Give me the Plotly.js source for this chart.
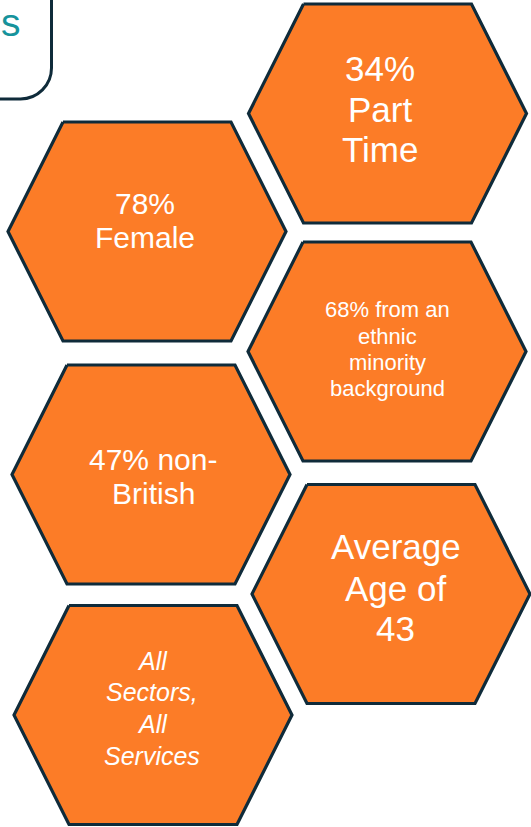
<!DOCTYPE html>
<html>
<head>
<meta charset="utf-8">
<script src="https://cdn.plot.ly/plotly-3.0.1.min.js"></script>
<style>html,body{margin:0;padding:0;background:#fff;overflow:hidden}#chart{width:531px;height:827px}</style>
</head>
<body>
<div id="chart"></div>
<script>
// Text content of each hexagon (one entry per line)
var hexLabels = [
  ["34%", "Part", "Time"],
  ["78%", "Female"],
  ["68% from an", "ethnic", "minority", "background"],
  ["47% non-", "British"],
  ["Average", "Age of", "43"],
  ["All", "Sectors,", "All", "Services"]
];
var cornerText = "s";

// Layout of the hexagons (pixel space, y downward)
var hexCenters = [[387.5,113.5],[147,231.5],[387,351.5],[151,474.5],[391,594],[153,715]];
var hexHalfW = 139, hexHalfH = 109.5, hexInset = 55;
var textX = [380, 145, 387.5, 153, 395.5, 152];
var textBaselines = [[81,122,162],[214,248],[317,344,370,396],[470,504],[559,601,641],[670,701,733,765]];
var textSizes = [35, 30, 22, 30, 35, 25];
var textItalic = [false,false,false,false,false,true];

var ORANGE = '#FC7C27', NAVY = '#0F2B3A', TEAL = '#16939C';

var traces = hexCenters.map(function(c){
  var cx=c[0], cy=c[1];
  var xs=[cx-hexHalfW+hexInset, cx+hexHalfW-hexInset, cx+hexHalfW, cx+hexHalfW-hexInset, cx-hexHalfW+hexInset, cx-hexHalfW, cx-hexHalfW+hexInset];
  var ys=[cy-hexHalfH, cy-hexHalfH, cy, cy+hexHalfH, cy+hexHalfH, cy, cy-hexHalfH];
  return {x:xs, y:ys, type:'scatter', mode:'lines', fill:'toself', fillcolor:ORANGE,
          line:{color:NAVY, width:3.2}, hoverinfo:'skip', showlegend:false};
});

var annotations = [];
hexLabels.forEach(function(lines, i){
  lines.forEach(function(t, j){
    var s = textSizes[i];
    annotations.push({x:textX[i], y:textBaselines[i][j]-0.35*s, xref:'x', yref:'y',
      text:t, showarrow:false, xanchor:'center', yanchor:'middle',
      font:{family:'Liberation Sans, Arial, sans-serif', size:s, color:'#FFFFFF', style:textItalic[i]?'italic':'normal'}});
  });
});
annotations.push({x:0, y:36-0.35*39, xref:'x', yref:'y', text:cornerText, showarrow:false,
  xanchor:'left', yanchor:'middle', borderpad:0, font:{family:'Liberation Sans, Arial, sans-serif', size:39, color:TEAL}});

var k = 0.5523*31;
var boxPath = 'M 51.5,-10 L 51.5,68 C 51.5,'+(68+k)+' '+(20.5+k)+',99 20.5,99 L -10,99';

var layout = {
  width:531, height:827, margin:{l:0,r:0,t:0,b:0},
  paper_bgcolor:'#FFFFFF', plot_bgcolor:'#FFFFFF',
  xaxis:{range:[0,531], visible:false, fixedrange:true},
  yaxis:{range:[827,0], visible:false, fixedrange:true},
  shapes:[{type:'path', path:boxPath, xref:'x', yref:'y', line:{color:NAVY, width:3}, fillcolor:'rgba(0,0,0,0)'}],
  annotations:annotations,
  showlegend:false
};
Plotly.newPlot('chart', traces, layout, {staticPlot:true, displayModeBar:false});
</script>
</body>
</html>
